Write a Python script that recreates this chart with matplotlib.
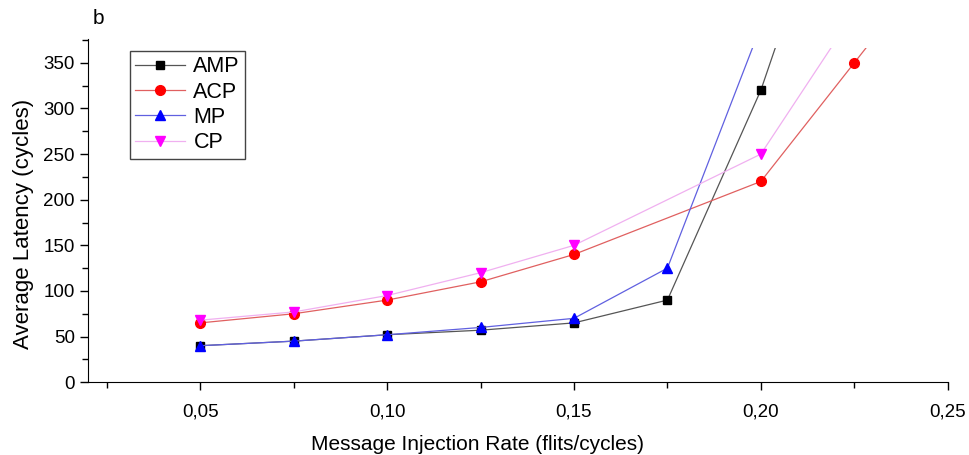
import matplotlib.pyplot as plt
from matplotlib.ticker import MultipleLocator, FuncFormatter
from matplotlib.transforms import Bbox, TransformedBbox

plt.rcParams['font.family'] = ['Liberation Sans', 'DejaVu Sans']

# data (last point of each series lies above the plot)
amp_x = [0.05, 0.075, 0.10, 0.125, 0.15, 0.175, 0.20, 0.225]
amp_y = [40, 45, 52, 57, 65, 90, 320, 620]
acp_x = [0.05, 0.075, 0.10, 0.125, 0.15, 0.20, 0.225, 0.25]
acp_y = [65, 75, 90, 110, 140, 220, 350, 480]
mp_x = [0.05, 0.075, 0.10, 0.125, 0.15, 0.175, 0.20]
mp_y = [40, 45, 52, 60, 70, 125, 390]
cp_x = [0.05, 0.075, 0.10, 0.125, 0.15, 0.20, 0.225]
cp_y = [68, 77, 95, 120, 150, 250, 405]

fig = plt.figure(figsize=(9.69, 4.55), dpi=100)
ax = fig.add_axes([0.091, 0.160, 0.887, 0.754])

lines = []
lines += ax.plot(amp_x, amp_y, color='#555555', lw=0.9, marker='s', ms=6,
                 mfc='black', mec='black', label='AMP')
lines += ax.plot(acp_x, acp_y, color='#e06060', lw=0.9, marker='o', ms=7,
                 mfc='red', mec='red', label='ACP')
lines += ax.plot(mp_x, mp_y, color='#6060e0', lw=0.9, marker='^', ms=7,
                 mfc='blue', mec='blue', label='MP')
lines += ax.plot(cp_x, cp_y, color='#f0b0f0', lw=0.9, marker='v', ms=7,
                 mfc='magenta', mec='magenta', label='CP')

ax.set_xlim(0.02, 0.25)
ax.set_ylim(0, 376)

# lines stop a little below the top of the y axis, as in the original
clip = TransformedBbox(Bbox([[0.0, 0.0], [1.0, 366 / 376]]), ax.transAxes)
for ln in lines:
    ln.set_clip_box(clip)

ax.xaxis.set_major_locator(MultipleLocator(0.05))
ax.xaxis.set_minor_locator(MultipleLocator(0.025))
ax.yaxis.set_major_locator(MultipleLocator(50))
ax.yaxis.set_minor_locator(MultipleLocator(25))
ax.xaxis.set_major_formatter(FuncFormatter(lambda v, p: ('%.2f' % v).replace('.', ',')))

for s in ['top', 'right']:
    ax.spines[s].set_visible(False)
ax.tick_params(which='major', length=6, width=1, labelsize=13.5)
ax.tick_params(which='minor', length=4, width=1)
ax.tick_params(axis='x', pad=9)

ax.set_xlabel('Message Injection Rate (flits/cycles)', fontsize=15)
ax.set_ylabel('Average Latency (cycles)', fontsize=16)
ax.xaxis.set_label_coords(0.453, -0.155)
ax.yaxis.set_label_coords(-0.063, 0.46)

ax.legend(loc='upper left', bbox_to_anchor=(0.036, 0.997), fontsize=15.5,
          fancybox=False, edgecolor='#444444', framealpha=1,
          handlelength=2.3, handletextpad=0.4, borderpad=0.25, labelspacing=0.2)

fig.text(0.096, 0.948, 'b', fontsize=15)

fig.savefig('out.png', dpi=100)
